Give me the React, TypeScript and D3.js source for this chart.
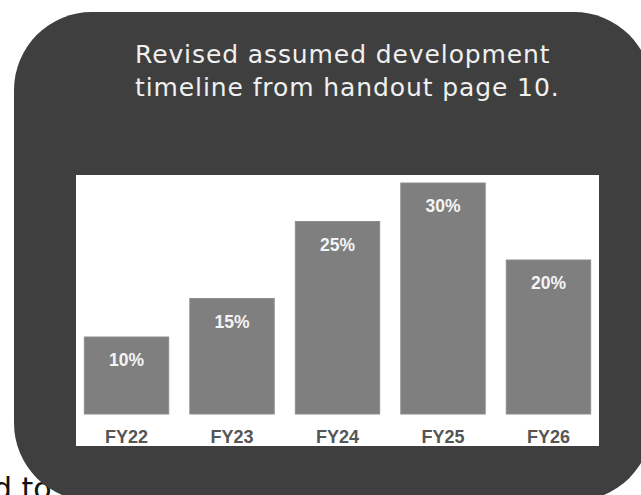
import React from "react";
import * as d3 from "d3";

const categories: string[] = ["FY22", "FY23", "FY24", "FY25", "FY26"];
const values: number[] = [10, 15, 25, 30, 20];
const valueLabels: string[] = ["10%", "15%", "25%", "30%", "20%"];
const titleLines: string[] = ["Revised assumed development", "timeline from handout page 10."];
const bgFragment = "d to a";

const W = 641;
const H = 495;

export default function App() {
  const panel = { x: 76, y: 175, w: 523, h: 271 };
  const x = d3
    .scaleBand<string>()
    .domain(categories)
    .range([panel.x, panel.x + panel.w])
    .paddingInner(0.2)
    .paddingOuter(0.079);
  const y = d3.scaleLinear().domain([0, 30]).range([414, 183]);

  return (
    <svg
      width={W}
      height={H}
      style={{ position: "absolute", left: 0, top: 0, background: "#ffffff" }}
    >
      <rect x={0} y={0} width={W} height={H} fill="#ffffff" />
      <text
        x={-7}
        y={499}
        fontFamily="DejaVu Sans, sans-serif"
        fontSize={30}
        fill="#111111"
      >
        {bgFragment}
      </text>
      <rect x={14} y={12} width={638} height={489} rx={78} ry={78} fill="#3f3f3f" />
      {titleLines.map((t, i) => (
        <text
          key={i}
          x={135}
          y={63 + i * 33}
          fontFamily="DejaVu Sans, sans-serif"
          fontSize={25}
          letterSpacing={0.9}
          fill="#f0f0f0"
        >
          {t}
        </text>
      ))}
      <rect x={panel.x} y={panel.y} width={panel.w} height={panel.h} fill="#ffffff" />
      {categories.map((c, i) => {
        const bx = x(c) as number;
        const bw = x.bandwidth();
        const cx = bx + bw / 2;
        return (
          <g key={c}>
            <rect
              x={bx}
              y={y(values[i])}
              width={bw}
              height={y(0) - y(values[i])}
              fill="#7f7f7f"
              stroke="#8c8c8c"
              strokeWidth={1}
            />
            <text
              x={cx}
              y={y(values[i]) + 29}
              textAnchor="middle"
              fontFamily="Liberation Sans, Arial, sans-serif"
              fontWeight="bold"
              fontSize={17.5}
              fill="#f4f4f4"
            >
              {valueLabels[i]}
            </text>
            <text
              x={cx}
              y={443}
              textAnchor="middle"
              fontFamily="Liberation Sans, Arial, sans-serif"
              fontWeight="bold"
              fontSize={18}
              fill="#555555"
            >
              {c}
            </text>
          </g>
        );
      })}
    </svg>
  );
}
